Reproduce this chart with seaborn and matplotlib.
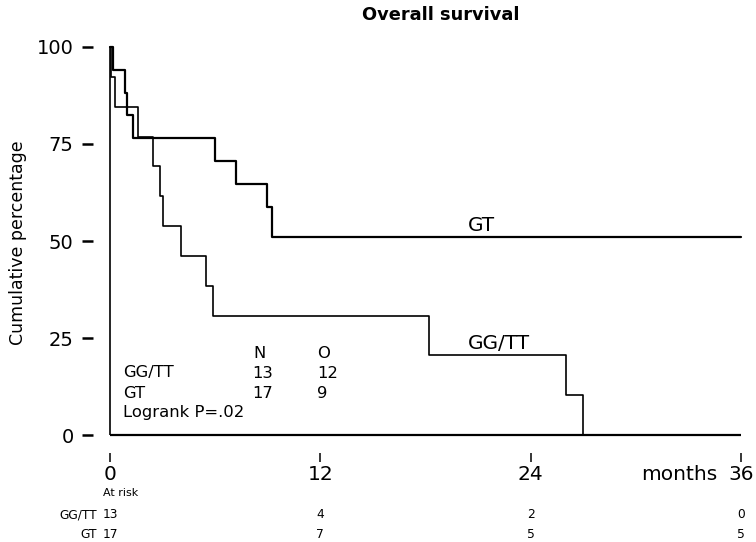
import matplotlib
matplotlib.use("Agg")
import matplotlib.pyplot as plt
import matplotlib.transforms as mtransforms
import numpy as np
import pandas as pd
import seaborn as sns

# Kaplan-Meier step data (months, cumulative percentage surviving)
gt_months = [0, 0.15, 0.85, 0.95, 1.3, 6.0, 7.2, 8.95, 9.25, 36]
gt_surv = [100, 94.1, 88.2, 82.4, 76.5, 70.6, 64.7, 58.8, 51.0, 51.0]

ggtt_months = [0, 0.05, 0.3, 1.6, 2.45, 2.85, 3.0, 4.05, 5.5, 5.9, 18.2, 26.0, 27.0]
ggtt_surv = [100, 92.3, 84.6, 76.9, 69.2, 61.5, 53.8, 46.2, 38.5, 30.8, 20.5, 10.3, 0]

# Summary table
groups = ["GG/TT", "GT"]
n_patients = [13, 17]
n_observed = [12, 9]
logrank_text = "Logrank P=.02"

# Numbers at risk
risk_times = [0, 12, 24, 36]
risk_ggtt = [13, 4, 2, 0]
risk_gt = [17, 7, 5, 5]

x_ticks = [0, 12, 24, 36]
y_ticks = [0, 25, 50, 75, 100]

sns.set_style("white")
plt.rcParams["font.family"] = ["DejaVu Sans"]
plt.rcParams["text.color"] = "black"

W, H = 756, 542
fig = plt.figure(figsize=(W / 100, H / 100), dpi=100)
ax = fig.add_axes([0.1339, 0.1902, 0.8579, 0.7303])


def fpos(x, y):
    """Figure-fraction coordinates from pixel offsets (top-left origin)."""
    return x / W, 1 - y / H


df_gt = pd.DataFrame({"months": gt_months, "surv": gt_surv})
df_gg = pd.DataFrame({"months": ggtt_months, "surv": ggtt_surv})

sns.lineplot(data=df_gg, x="months", y="surv", ax=ax, color="black",
             linewidth=1.2, drawstyle="steps-post", estimator=None)
sns.lineplot(data=df_gt, x="months", y="surv", ax=ax, color="black",
             linewidth=1.6, drawstyle="steps-post", estimator=None)

# Origin line and baseline
ax.vlines(0, 0, 100, color="black", linewidth=1.2)
ax.hlines(0, 0, 36, color="black", linewidth=1.6)

ax.set_xlim(-0.5, 36.5)
ax.set_ylim(-1, 101)
ax.set_xticks(x_ticks)
ax.set_yticks(y_ticks)
ax.set_xticklabels([str(t) for t in x_ticks])
ax.set_yticklabels([str(t) for t in y_ticks])
ax.set_xlabel("")
ax.set_ylabel("")

for side in ["top", "right"]:
    ax.spines[side].set_visible(False)
ax.spines["left"].set_position(("outward", 5.9))
ax.spines["bottom"].set_position(("outward", 10.1))
ax.spines["left"].set_visible(False)
ax.spines["bottom"].set_visible(False)
ax.tick_params(axis="y", direction="out", length=7.9, width=1.8, pad=6.0,
               left=True, colors="black", labelcolor="black", labelsize=14)
ax.tick_params(axis="x", direction="out", length=6.5, width=1.1, pad=2.5,
               bottom=True, colors="black", labelcolor="black", labelsize=14.5)

# Curve labels
ax.text(21.2, 54.1, "GT", fontsize=14.5, ha="center", va="center")
ax.text(22.2, 23.7, "GG/TT", fontsize=14.5, ha="center", va="center")

# Title and axis label
fig.text(*fpos(441, 15), "Overall survival", fontsize=12.8, fontweight="bold",
         ha="center", va="center")
fig.text(*fpos(18, 243), "Cumulative percentage", fontsize=12.5,
         rotation=90, ha="center", va="center")
fig.text(*fpos(717, 474), "months", fontsize=14.5, ha="right", va="center")

# N / O summary
tfs = 11.8
fig.text(*fpos(253, 353), "N", fontsize=tfs, ha="left", va="center")
fig.text(*fpos(317, 353), "O", fontsize=tfs, ha="left", va="center")
for i, (g, n, o) in enumerate(zip(groups, n_patients, n_observed)):
    yy = 373 + 20 * i
    fig.text(*fpos(123, yy), g, fontsize=tfs, ha="left", va="center")
    fig.text(*fpos(252, yy), str(n), fontsize=tfs, ha="left", va="center")
    fig.text(*fpos(317, yy), str(o), fontsize=tfs, ha="left", va="center")
fig.text(*fpos(123, 413), logrank_text, fontsize=tfs, ha="left", va="center")

# At-risk table
blend = mtransforms.blended_transform_factory(ax.transData, fig.transFigure)
fig.text(*fpos(103, 493), "At risk", fontsize=8, ha="left", va="center")
for label, counts, yy in [("GG/TT", risk_ggtt, 515), ("GT", risk_gt, 535)]:
    fig.text(*fpos(97, yy), label, fontsize=8.8, ha="right", va="center")
    for t, c in zip(risk_times, counts):
        ax.text(t, 1 - yy / H, str(c), fontsize=8.8, ha="center", va="center",
                transform=blend)

fig.savefig("out.png", dpi=100)
